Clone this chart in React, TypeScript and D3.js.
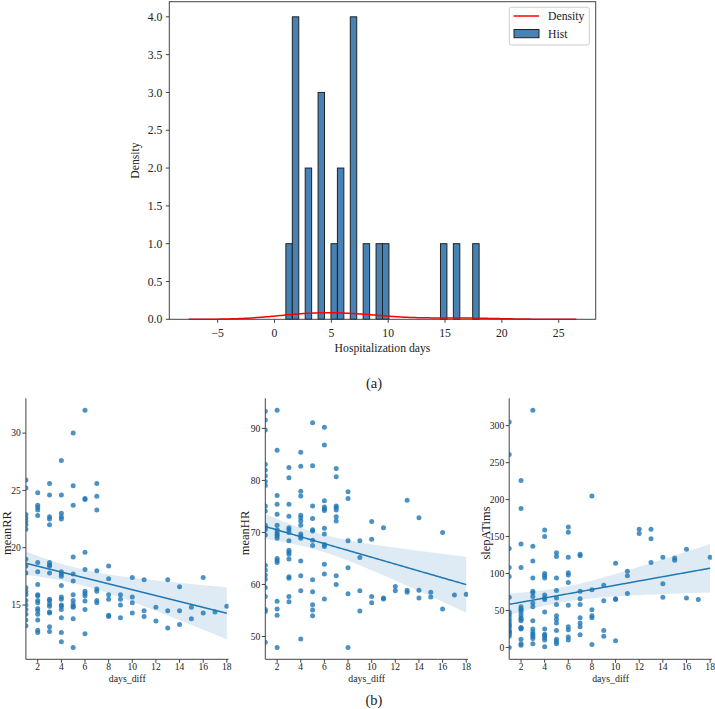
import React from "react";
import * as d3 from "d3";

// (a) hospitalization days, one entry per patient
const hospitalDays = [1, 2, 2, 2, 2, 3, 3, 4, 4, 4, 5, 6, 6, 7, 7, 7, 7, 8, 9, 10, 15, 16, 18];
const histBins = 30;
const kdeBandwidth = 2.85;
const topXTicks = [-5, 0, 5, 10, 15, 20, 25];
const topYTicks = [0, 0.5, 1, 1.5, 2, 2.5, 3, 3.5, 4];

// (b) values per days_diff (index 0 -> day 1 ... index 17 -> day 18)
const meanRR: number[][] = [
  [25.9, 25.2, 22.9, 22.6, 22.3, 22.0, 21.6, 19.0, 18.4, 17.8, 16.5, 16.2, 15.9, 15.4, 15.0, 14.6, 14.2, 13.7, 13.2],
  [24.8, 23.7, 23.5, 23.3, 22.8, 18.7, 17.9, 16.8, 15.9, 15.8, 15.4, 15.2, 14.7, 14.5, 14.2, 13.7, 12.8, 12.6],
  [25.6, 24.6, 22.7, 22.5, 22.0, 18.7, 18.5, 18.4, 17.8, 15.5, 15.4, 15.1, 14.9, 14.4, 14.3, 13.1, 12.7],
  [27.6, 24.6, 23.0, 22.7, 22.5, 17.9, 17.7, 17.5, 16.7, 15.7, 15.5, 15.0, 14.9, 14.6, 13.9, 12.6, 11.8],
  [30.0, 25.4, 23.7, 19.2, 17.7, 17.1, 15.9, 15.4, 15.1, 14.9, 14.8, 13.8, 11.3],
  [32.0, 24.3, 24.2, 19.6, 18.1, 16.2, 16.0, 15.8, 15.35, 14.6, 12.5],
  [25.6, 24.5, 23.3, 18.0, 16.4, 16.2, 15.4, 15.2],
  [18.4, 17.3, 15.9, 15.5, 14.1, 14.0],
  [15.9, 15.5, 15.0, 13.9],
  [17.4, 15.7, 15.2, 14.3],
  [17.2, 14.5, 14.0],
  [14.8, 13.6],
  [17.2, 14.5, 13.0],
  [16.6, 14.5, 13.3],
  [14.8, 13.8],
  [17.4, 14.3],
  [14.4],
  [14.9],
];

const meanHR: number[][] = [
  [93.3, 91.6, 89.7, 83.1, 82.0, 80.9, 79.8, 79.0, 75.1, 74.1, 71.4, 70.9, 70.5, 69.5, 63.7, 62.8, 61.8, 61.0, 59.4, 57.7, 55.2, 54.8, 48.9],
  [93.5, 85.8, 77.1, 75.4, 73.5, 71.4, 70.5, 70.0, 69.6, 69.3, 68.9, 65.0, 64.6, 64.2, 56.8, 55.3, 54.1, 47.9],
  [82.5, 80.5, 75.4, 73.1, 70.9, 70.5, 70.0, 68.4, 66.6, 66.2, 65.8, 64.9, 61.5, 61.2, 57.7, 56.7],
  [85.4, 82.7, 77.9, 77.0, 73.3, 72.8, 72.2, 71.4, 69.7, 69.2, 68.9, 64.5, 61.7, 58.8, 49.5],
  [91.1, 82.8, 75.1, 72.7, 70.5, 70.3, 68.5, 67.5, 60.9, 58.6, 56.1, 55.1, 54.0],
  [90.2, 86.8, 76.1, 74.9, 74.5, 74.2, 70.8, 69.7, 67.7, 67.3, 63.9, 62.0, 57.2],
  [82.3, 80.7, 75.1, 74.8, 74.3, 73.0, 72.2, 61.7, 60.0],
  [77.8, 76.5, 68.4, 63.2, 58.2, 47.9],
  [68.4, 65.2, 58.8, 54.9],
  [72.1, 68.7, 57.7, 56.5],
  [70.9, 57.4, 57.2],
  [59.6, 58.8],
  [76.2, 58.9, 58.5],
  [72.8, 58.9, 57.4],
  [58.5, 57.6],
  [70.0, 55.3],
  [58.0],
  [58.1],
];

const slepATims: number[][] = [
  [305, 261, 134, 108, 96, 68, 48, 45, 42, 38, 35, 32, 30, 28, 25, 22, 21, 20, 18, 15, 0],
  [226, 188, 140, 108, 55, 52, 51, 48, 44, 40, 38, 36, 27, 26, 25, 11, 5, 3],
  [321, 137, 117, 94, 76, 74, 69, 60, 55, 36, 25, 21, 18, 15, 12, 5],
  [159, 150, 100, 97, 94, 71, 67, 65, 48, 25, 18, 16, 13, 10, 1],
  [128, 123, 94, 77, 67, 58, 43, 38, 33, 23, 11, 8, 5],
  [163, 156, 122, 101, 98, 88, 57, 28, 24, 14, 10],
  [126, 124, 76, 66, 58, 40, 33, 28, 17],
  [205, 78, 51, 43, 40, 4],
  [84, 63, 23, 15],
  [114, 66, 65, 9],
  [103, 97, 73],
  [160, 154],
  [160, 147, 115],
  [122, 86, 68],
  [121, 118],
  [133, 67],
  [65],
  [122],
];

const dayTicks = [2, 4, 6, 8, 10, 12, 14, 16, 18];
const rrTicks = [15, 20, 25, 30];
const hrTicks = [50, 60, 70, 80, 90];
const slepTicks = [0, 50, 100, 150, 200, 250, 300];

const FONT = "'Liberation Serif', 'Times New Roman', serif";
const BLUE = "#1f77b4";
const AXIS = "#444";

function TopChart() {
  const L = 169.3, R = 595.7, T = 1.7, B = 319.3;

  const lo = d3.min(hospitalDays)! - 3 * kdeBandwidth;
  const hi = d3.max(hospitalDays)! + 3 * kdeBandwidth;
  const pad = (hi - lo) * 0.05;
  const x = d3.scaleLinear().domain([lo - pad, hi + pad]).range([L, R]);

  const [d0, d1] = d3.extent(hospitalDays) as [number, number];
  const step = (d1 - d0) / histBins;
  const bins = d3
    .bin()
    .domain([d0, d1])
    .thresholds(d3.range(1, histBins).map((i) => d0 + i * step))(hospitalDays);

  const y = d3.scaleLinear().domain([0, d3.max(bins, (b) => b.length)! * 1.05]).range([B, T]);

  // gaussian kde
  const n = hospitalDays.length;
  const grid = d3.range(0, 201).map((i) => lo + ((hi - lo) * i) / 200);
  const kde = grid.map((g) => {
    const s = d3.sum(hospitalDays, (v) => Math.exp(-0.5 * ((g - v) / kdeBandwidth) ** 2));
    return [g, s / (n * kdeBandwidth * Math.sqrt(2 * Math.PI))] as [number, number];
  });
  const line = d3.line<[number, number]>().x((d) => x(d[0])).y((d) => y(d[1]));

  return (
    <g fontFamily={FONT}>
      {bins
        .filter((b) => b.length > 0)
        .map((b, i) => (
          <rect
            key={i}
            x={x(b.x0!)}
            y={y(b.length)}
            width={x(b.x1!) - x(b.x0!)}
            height={B - y(b.length)}
            fill="#4682b4"
            stroke="#222"
            strokeWidth={1}
          />
        ))}
      <path d={line(kde)!} fill="none" stroke="red" strokeWidth={1.5} />
      <rect x={L} y={T} width={R - L} height={B - T} fill="none" stroke={AXIS} strokeWidth={1} />
      {topXTicks.map((t) => (
        <g key={t} transform={`translate(${x(t)},${B})`}>
          <line y2={3.5} stroke={AXIS} />
          <text y={17.5} textAnchor="middle" fontSize={11.7} fill="#222">
            {t < 0 ? `\u2212${-t}` : t}
          </text>
        </g>
      ))}
      {topYTicks.map((t) => (
        <g key={t} transform={`translate(${L},${y(t)})`}>
          <line x2={-3.5} stroke={AXIS} />
          <text x={-7} dy="0.35em" textAnchor="end" fontSize={11.7} fill="#222">
            {t.toFixed(1)}
          </text>
        </g>
      ))}
      <text x={(L + R) / 2} y={352} textAnchor="middle" fontSize={11.7} fill="#222">
        Hospitalization days
      </text>
      <text
        transform={`translate(139,${(T + B) / 2}) rotate(-90)`}
        textAnchor="middle"
        fontSize={11.7}
        fill="#222"
      >
        Density
      </text>
      {/* legend */}
      <rect x={509.3} y={7.3} width={80} height={37.7} rx={2} fill="white" fillOpacity={0.8} stroke="#ccc" />
      <line x1={513.5} x2={539} y1={16} y2={16} stroke="red" strokeWidth={1.5} />
      <text x={548} y={20} fontSize={11.7} fill="#222">Density</text>
      <rect x={514} y={29.5} width={25} height={8.2} fill="#4682b4" stroke="#222" />
      <text x={548} y={37.5} fontSize={11.7} fill="#222">Hist</text>
      <text x={374} y={383} dy="0.35em" textAnchor="middle" fontSize={14.5} fill="#222">(a)</text>
    </g>
  );
}

interface PanelProps {
  id: string;
  left: number;
  values: number[][];
  ticks: number[];
  label: string;
  labelOffset: number;
}

function Panel({ id, left, values, ticks, label, labelOffset }: PanelProps) {
  const T = 398.3, B = 659.3, W = 202.7;
  const pts = values.flatMap((vs, i) => vs.map((v) => [i + 1, v] as [number, number]));
  const [ymin, ymax] = d3.extent(pts, (p) => p[1]) as [number, number];
  const pad = (ymax - ymin) * 0.05;
  const x = d3.scaleLinear().domain([1, 18.15]).range([left, left + W]);
  const y = d3.scaleLinear().domain([ymin - pad, ymax + pad]).range([B, T]);

  // ordinary least squares + 95% CI of the mean
  const n = pts.length;
  const mx = d3.mean(pts, (p) => p[0])!;
  const my = d3.mean(pts, (p) => p[1])!;
  const sxx = d3.sum(pts, (p) => (p[0] - mx) ** 2);
  const sxy = d3.sum(pts, (p) => (p[0] - mx) * (p[1] - my));
  const slope = sxy / sxx;
  const icpt = my - slope * mx;
  const s = Math.sqrt(d3.sum(pts, (p) => (p[1] - icpt - slope * p[0]) ** 2) / (n - 2));
  const [xa, xb] = d3.extent(pts, (p) => p[0]) as [number, number];
  const xs = d3.range(0, 101).map((i) => xa + ((xb - xa) * i) / 100);
  const fit = xs.map((v) => {
    const yh = icpt + slope * v;
    const se = 1.98 * s * Math.sqrt(1 / n + (v - mx) ** 2 / sxx);
    return { v, yh, lo: yh - se, hi: yh + se };
  });
  const band = d3
    .area<(typeof fit)[number]>()
    .x((d) => x(d.v))
    .y0((d) => y(d.lo))
    .y1((d) => y(d.hi));
  const line = d3
    .line<(typeof fit)[number]>()
    .x((d) => x(d.v))
    .y((d) => y(d.yh));

  return (
    <g fontFamily={FONT}>
      <defs>
        <clipPath id={id}>
          <rect x={left} y={T} width={W} height={B - T} />
        </clipPath>
      </defs>
      <g clipPath={`url(#${id})`}>
        {pts.map((p, i) => (
          <circle key={i} cx={x(p[0])} cy={y(p[1])} r={2.5} fill={BLUE} fillOpacity={0.8} />
        ))}
        <path d={band(fit)!} fill={BLUE} fillOpacity={0.15} />
        <path d={line(fit)!} fill="none" stroke={BLUE} strokeWidth={1.5} />
      </g>
      <line x1={left} x2={left} y1={T} y2={B} stroke={AXIS} />
      <line x1={left} x2={left + W} y1={B} y2={B} stroke={AXIS} />
      {dayTicks.map((t) => (
        <g key={t} transform={`translate(${x(t)},${B})`}>
          <line y2={3.5} stroke={AXIS} />
          <text y={11} textAnchor="middle" fontSize={9.6} fill="#222">{t}</text>
        </g>
      ))}
      {ticks.map((t) => (
        <g key={t} transform={`translate(${left},${y(t)})`}>
          <line x2={-3.5} stroke={AXIS} />
          <text x={-5} dy="0.35em" textAnchor="end" fontSize={9.6} fill="#222">{t}</text>
        </g>
      ))}
      <text x={left + W / 2} y={682} textAnchor="middle" fontSize={9.8} fill="#222">days_diff</text>
      <text
        transform={`translate(${left - labelOffset},533) rotate(-90)`}
        dy="0.35em"
        textAnchor="middle"
        fontSize={12.5}
        fill="#222"
      >
        {label}
      </text>
    </g>
  );
}

export default function App() {
  return (
    <svg
      width={715}
      height={709}
      style={{ position: "absolute", left: 0, top: 0, background: "white" }}
    >
      <TopChart />
      <Panel id="p1" left={25.9} values={meanRR} ticks={rrTicks} label="meanRR" labelOffset={19} />
      <Panel id="p2" left={265.3} values={meanHR} ticks={hrTicks} label="meanHR" labelOffset={20.5} />
      <Panel id="p3" left={509.2} values={slepATims} ticks={slepTicks} label="slepATims" labelOffset={24} />
      <text x={374} y={700} dy="0.35em" textAnchor="middle" fontSize={14.5} fill="#222" fontFamily={FONT}>
        (b)
      </text>
    </svg>
  );
}
